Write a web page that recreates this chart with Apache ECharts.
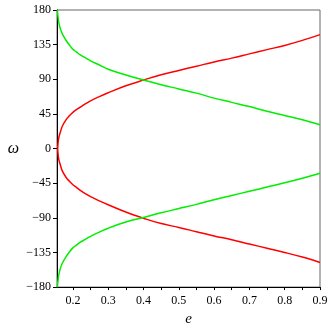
<!DOCTYPE html>
<html><head><meta charset="utf-8">
<script src="https://cdn.jsdelivr.net/npm/echarts@6/dist/echarts.min.js"></script>
<style>html,body{margin:0;padding:0;background:#fff}#c{width:332px;height:332px}</style>
</head><body><div id="c"></div>
<script>
// e values for the red curve
var redE = [0.157,0.158,0.16,0.165,0.17,0.18,0.19,0.2,0.21,0.22,0.235,0.25,0.275,0.3,0.35,0.4,0.45,0.5,0.55,0.6,0.65,0.7,0.75,0.8,0.85,0.9];
var redUpper = [0,7,14,22,29,37,42.5,47,50.5,53.5,58,62,67.5,72.5,81.5,89,96,101.5,107,112.5,117.5,123,128.5,134,140.5,148];
var redLower = [0,-7,-14,-22,-29,-37,-42.5,-47,-50.5,-54,-58.5,-62.5,-68,-73,-82.5,-90.5,-97.5,-102.5,-108,-113.5,-118.5,-124,-129.5,-135,-141,-148];
// e values for the green curves
var greenE = [0.156,0.158,0.16,0.165,0.17,0.18,0.19,0.2,0.21,0.22,0.235,0.25,0.275,0.3,0.35,0.4,0.45,0.5,0.55,0.6,0.65,0.7,0.75,0.8,0.85,0.9];
var greenUpper = [180,171,164,155,149,141,134.5,129,125.5,122,118,114,108.5,103,95.5,89,83,77.5,72,65.5,60,54.5,48.5,43,37.5,31];
var greenLower = [-180,-171,-164,-155,-149,-141,-134.5,-129,-125.5,-122,-118,-114,-108.5,-103.5,-95.5,-89.5,-83.5,-78,-72.5,-66.5,-61,-55.5,-50,-44.5,-38.5,-32];
// tick values
var xTicks = [0.2,0.3,0.4,0.5,0.6,0.7,0.8,0.9];
var xAllTicks = [0.2,0.25,0.3,0.35,0.4,0.45,0.5,0.55,0.6,0.65,0.7,0.75,0.8,0.85,0.9];

function pairs(xs, ys){ return xs.map(function(x,i){return [x, ys[i]];}); }
var redData = pairs(redE, redLower).reverse().concat(pairs(redE, redUpper).slice(1));

var font = 'Liberation Serif';
var chart = echarts.init(document.getElementById('c'), null, {renderer:'canvas'});
chart.setOption({
  animation:false,
  grid:{left:57, right:12, top:10, bottom:41, show:true, borderColor:'#666', borderWidth:1, backgroundColor:'transparent'},
  xAxis:{
    type:'value', min:0.155, max:0.9,
    name:'e', nameLocation:'middle', nameGap:20,
    nameTextStyle:{fontFamily:font, fontStyle:'italic', fontSize:15, color:'#000'},
    axisLine:{show:true, onZero:false, lineStyle:{color:'#000', width:1}},
    axisTick:{show:true, customValues:xAllTicks, length:3, lineStyle:{color:'#000'}},
    axisLabel:{customValues:xTicks, margin:8, fontFamily:font, fontSize:12, color:'#000',
      formatter:function(v){return v.toFixed(1);}},
    splitLine:{show:false}
  },
  yAxis:{
    type:'value', min:-180, max:180, interval:45,
    name:'ω', nameLocation:'middle', nameGap:38, nameRotate:0,
    nameTextStyle:{fontFamily:font, fontStyle:'italic', fontSize:16, color:'#000'},
    axisLine:{show:true, onZero:false, lineStyle:{color:'#000', width:1}},
    axisTick:{show:true, length:4, lineStyle:{color:'#000'}},
    axisLabel:{margin:6, fontFamily:font, fontSize:12, color:'#000',
      formatter:function(v){return v<0 ? '\u2212' + Math.abs(v) : String(v);}},
    splitLine:{show:false}
  },
  series:[
    {type:'line', data:redData, showSymbol:false, smooth:0.4, lineStyle:{color:'#ff0000', width:1.5}, clip:true},
    {type:'line', data:pairs(greenE, greenUpper), showSymbol:false, smooth:0.4, lineStyle:{color:'#00ee00', width:1.5}, clip:true},
    {type:'line', data:pairs(greenE, greenLower), showSymbol:false, smooth:0.4, lineStyle:{color:'#00ee00', width:1.5}, clip:true}
  ]
});
</script></body></html>
